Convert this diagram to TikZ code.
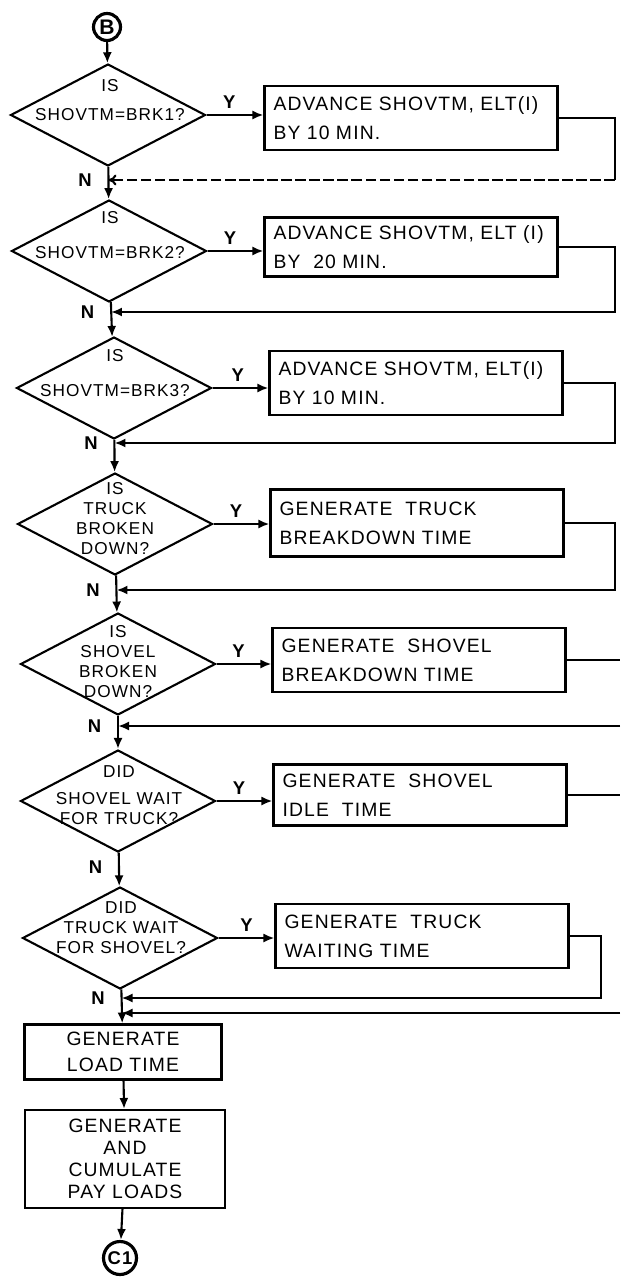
\documentclass[tikz,border=0pt]{standalone}
\usepackage{fontspec}
\setmainfont{Liberation Sans}[LetterSpace=6]
\usetikzlibrary{shapes.geometric,arrows.meta}

\begin{document}
\begin{tikzpicture}[x=0.02cm,y=-0.02cm,line width=1.2pt,
    >={Latex[length=2.2mm,width=1.8mm]},
    decision/.style={shape=diamond,draw,inner sep=0pt,minimum width=3.9cm,minimum height=2.04cm},
    qtext/.style={align=center,inner sep=0pt,font=\fontsize{9.8}{11.4}\selectfont},
    process/.style={draw,rectangle,minimum width=5.86cm,minimum height=1.28cm,text width=5.5cm,
      align=left,inner xsep=0.18cm,font=\fontsize{11}{16.5}\selectfont},
    connector/.style={draw,circle,inner sep=0pt,line width=1.8pt,font=\fontsize{12}{14}\selectfont\bfseries},
    lbl/.style={font=\fontsize{10.5}{12}\selectfont\bfseries}]
    \useasboundingbox (0,0) rectangle (620,1280);

    % right rails and page edge
    \coordinate (rail) at (615,0);
    \coordinate (rail7) at (601,0);
    \coordinate (edge) at (620,0);

    \node[connector,minimum size=0.54cm] (b) at (107,27) {B};

    % decisions
    \node[decision] (d1) at (108,115) {};
    \node[qtext] (d1t) at (110,100) {IS\\[5pt]SHOVTM=BRK1?};
    \node[decision] (d2) at (109,251) {};
    \node[qtext] (d2t) at (110,235) {IS\\[9pt]SHOVTM=BRK2?};
    \node[decision] (d3) at (114,388) {};
    \node[qtext] (d3t) at (115,373) {IS\\[9pt]SHOVTM=BRK3?};
    \node[decision] (d4) at (115,524) {};
    \node[qtext] (d4t) at (115,519) {IS\\TRUCK\\BROKEN\\DOWN?};
    \node[decision] (d5) at (118,664) {};
    \node[qtext] (d5t) at (118,662) {IS\\SHOVEL\\BROKEN\\DOWN?};
    \node[decision] (d6) at (118,801) {};
    \node[qtext] (d6t) at (119,795) {DID\\[4pt]SHOVEL WAIT\\FOR TRUCK?};
    \node[decision] (d7) at (120,938) {};
    \node[qtext] (d7t) at (121,928) {DID\\TRUCK WAIT\\FOR SHOVEL?};

    % actions
    \node[process] (b1) at (411,118) {ADVANCE SHOVTM, ELT(I)\\BY 10 MIN.};
    \node[process,minimum height=1.18cm] (b2) at (411,247) {ADVANCE SHOVTM, ELT (I)\\BY \ 20 MIN.};
    \node[process] (b3) at (416,383) {ADVANCE SHOVTM, ELT(I)\\BY 10 MIN.};
    \node[process,minimum height=1.34cm] (b4) at (417,523) {GENERATE \ TRUCK\\BREAKDOWN TIME};
    \node[process] (b5) at (419,660) {GENERATE \ SHOVEL\\BREAKDOWN TIME};
    \node[process,minimum height=1.22cm] (b6) at (420,795) {GENERATE \ SHOVEL\\IDLE \ TIME};
    \node[process] (b7) at (422,936) {GENERATE \ TRUCK\\WAITING TIME};
    \node[process,minimum width=3.94cm,text width=3.58cm,minimum height=1.1cm,align=center,
      font=\fontsize{11}{15}\selectfont] (lt) at (123,1052) {GENERATE\\LOAD TIME};
    \node[process,minimum width=4cm,text width=3.64cm,minimum height=1.96cm,align=center,
      font=\fontsize{11}{12.5}\selectfont] (pl) at (125,1159) {GENERATE\\AND\\CUMULATE\\PAY LOADS};

    \node[connector,minimum size=0.66cm,font=\fontsize{10.5}{12}\selectfont\bfseries] (c1) at (120,1258) {C1};

    % joins on the main line
    \coordinate (m1) at (108.5,180);
    \coordinate (m2) at (111,312);
    \coordinate (m3) at (114.5,443);
    \coordinate (m4) at (116.5,590);
    \coordinate (m5) at (118,726);
    \coordinate (m6) at (119,867);
    \coordinate (m7) at (121.5,998);
    \coordinate (m8) at (121.5,1013);

    % main line
    \draw[->] (b) -- (d1);
    \draw[->] (d1) -- (d2);
    \draw[->] (d2) -- (d3);
    \draw[->] (d3) -- (d4);
    \draw[->] (d4) -- (d5);
    \draw[->] (d5) -- (d6);
    \draw[->] (d6) -- (d7);
    \draw[->] (d7) -- (lt);
    \draw[->] (lt) -- (pl);
    \draw[->] (pl) -- (c1);

    % yes branches
    \draw[->] (d1.east) -- (d1.east -| b1.west) node[lbl,above,pos=.4] (y1) {Y};
    \draw[->] (d2.east) -- (d2.east -| b2.west) node[lbl,above,pos=.4] (y2) {Y};
    \draw[->] (d3.east) -- (d3.east -| b3.west) node[lbl,above,pos=.45] (y3) {Y};
    \draw[->] (d4.east) -- (d4.east -| b4.west) node[lbl,above,pos=.4] (y4) {Y};
    \draw[->] (d5.east) -- (d5.east -| b5.west) node[lbl,above,pos=.4] (y5) {Y};
    \draw[->] (d6.east) -- (d6.east -| b6.west) node[lbl,above,pos=.4] (y6) {Y};
    \draw[->] (d7.east) -- (d7.east -| b7.west) node[lbl,above,pos=.5] (y7) {Y};

    % back to the main line
    \draw (b1.east) -| (rail |- m1);
    \draw[dash pattern=on 6pt off 2pt,-{To[length=1.6mm,width=2.2mm]}] (rail |- m1) -- (m1);
    \draw[->] (b2.east) -| (rail |- m2) -- (m2);
    \draw[->] (b3.east) -| (rail |- m3) -- (m3);
    \draw[->] (b4.east) -| (rail |- m4) -- (m4);
    \draw (b5.east) -- (b5.east -| edge);
    \draw[->] (edge |- m5) -- (m5);
    \draw (b6.east) -- (b6.east -| edge);
    \draw[->] (b7.east) -| (rail7 |- m7) -- (m7);
    \draw[->] (edge |- m8) -- (m8);

    \node[lbl,left=0.2cm] (n1) at (m1) {N};
    \node[lbl,left=0.2cm] (n2) at (m2) {N};
    \node[lbl,left=0.2cm] (n3) at (m3) {N};
    \node[lbl,left=0.2cm] (n4) at (m4) {N};
    \node[lbl,left=0.2cm] (n5) at (m5) {N};
    \node[lbl,left=0.2cm] (n6) at (m6) {N};
    \node[lbl,left=0.2cm] (n7) at (m7) {N};
\end{tikzpicture}
\end{document}
